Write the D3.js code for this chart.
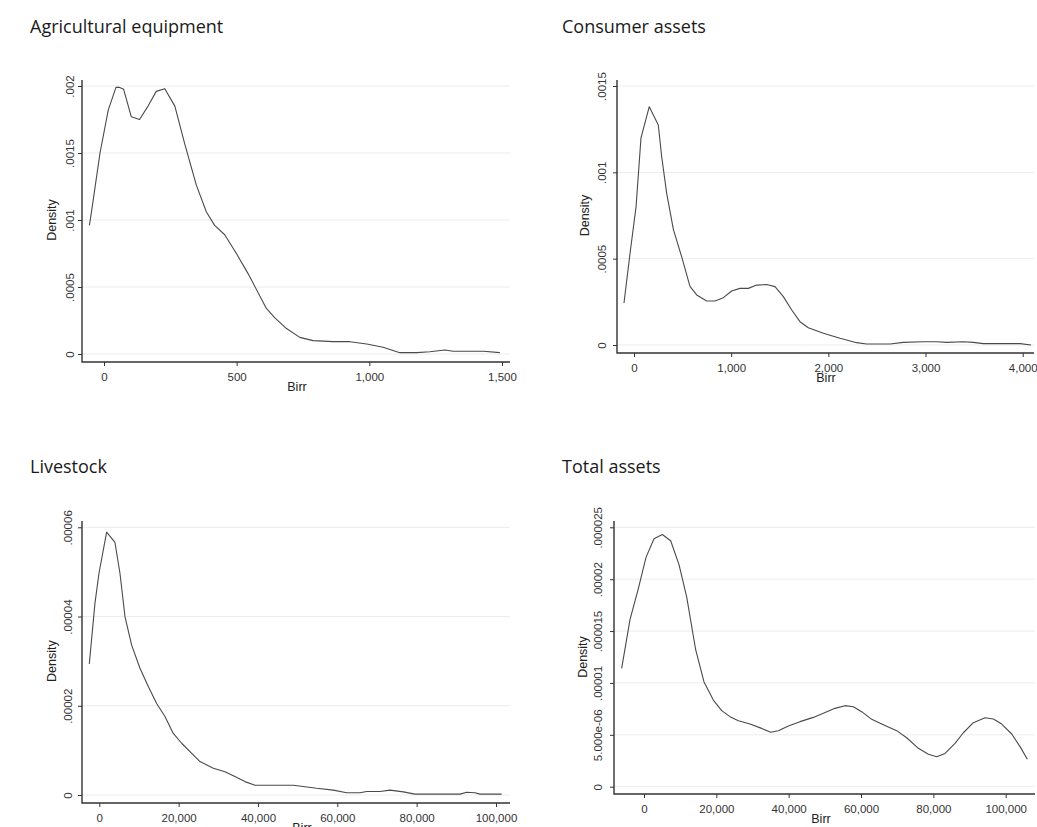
<!DOCTYPE html>
<html>
<head>
<meta charset="utf-8">
<script src="https://cdn.jsdelivr.net/npm/d3@7"></script>
<style>
  body { margin: 0; background: #fff; }
  svg { display: block; }
  .title { font-family: "Open Sans", sans-serif; font-size: 18px; fill: #1a1a1a; }
  .tick text { font-family: "Liberation Sans", Arial, sans-serif; font-size: 11.5px; fill: #333; }
  .axis-title { font-family: "Liberation Sans", Arial, sans-serif; font-size: 12.5px; fill: #222; }
</style>
</head>
<body>
<svg id="chart" width="1037" height="827"></svg>
<script>
// kernel density curves: x in Birr, y is density
const agriX = [-55, -48, -15, 16, 45, 57, 74, 103, 134, 166, 197, 229, 267, 304, 348, 386, 417, 455, 499, 543, 612, 644, 688, 738, 788, 864, 927, 990, 1052, 1115, 1178, 1228, 1285, 1316, 1430, 1492];
const agriY = [.00096, .00105, .0015, .00182, .00199, .00199, .001975, .00177, .00175, .00185, .00196, .00198, .00185, .00157, .00126, .00106, .00096, .00089, .00075, .0006, .00034, .00027, .00019, .000124, .0001, .000092, .000092, .000075, .00005, .00001, .00001, .000017, .00003, .00002, .00002, .00001];

const consX = [-103, -41, 21, 72, 157, 250, 285, 336, 405, 491, 576, 645, 748, 834, 919, 1005, 1091, 1177, 1262, 1365, 1451, 1537, 1623, 1708, 1794, 1949, 2120, 2292, 2395, 2635, 2772, 2978, 3115, 3218, 3389, 3492, 3595, 3973, 4086];
const consY = [.000243, .00053, .0008, .0012, .00138, .001274, .00109, .00088, .00067, .00051, .00034, .00029, .000255, .000255, .000274, .000313, .000328, .000328, .000347, .00035, .000338, .00028, .000203, .000135, .0001, .000068, .000039, .0000135, .000006, .000006, .000015, .000019, .000019, .000015, .000019, .000015, .000008, .000008, 0];

const liveX = [-2521, -1092, -84, 1849, 3950, 5210, 6471, 8151, 10252, 12353, 14454, 16555, 18655, 20756, 22857, 25378, 28739, 31680, 33781, 36723, 39244, 48908, 54790, 58992, 62353, 65714, 67395, 70756, 73277, 76639, 79580, 90924, 92605, 94706, 95966, 101428];
const liveY = [2.94e-5, 4.30e-5, 4.97e-5, 5.89e-5, 5.66e-5, 4.97e-5, 4.0e-5, 3.36e-5, 2.84e-5, 2.43e-5, 2.05e-5, 1.76e-5, 1.38e-5, 1.16e-5, 9.7e-6, 7.5e-6, 6.0e-6, 5.2e-6, 4.3e-6, 3.0e-6, 2.2e-6, 2.2e-6, 1.5e-6, 1.1e-6, 5e-7, 5e-7, 8e-7, 8e-7, 1.1e-6, 7e-7, 2e-7, 2e-7, 6e-7, 5e-7, 2e-7, 2e-7];

const totX = [-6175, -3871, -1567, 553, 2765, 5069, 7373, 9677, 11797, 14286, 16590, 19171, 21475, 23779, 26083, 29309, 32535, 35023, 37143, 39908, 43134, 46820, 49585, 52811, 55576, 57880, 60184, 62949, 65714, 69862, 72627, 75853, 78618, 80922, 83226, 85991, 88295, 91060, 94286, 96590, 98894, 101659, 103963, 105991];
const totY = [1.14e-5, 1.61e-5, 1.91e-5, 2.21e-5, 2.39e-5, 2.43e-5, 2.37e-5, 2.14e-5, 1.83e-5, 1.32e-5, 1.01e-5, 8.35e-6, 7.33e-6, 6.75e-6, 6.36e-6, 6.04e-6, 5.62e-6, 5.24e-6, 5.4e-6, 5.85e-6, 6.27e-6, 6.68e-6, 7.07e-6, 7.55e-6, 7.81e-6, 7.71e-6, 7.23e-6, 6.49e-6, 6.04e-6, 5.4e-6, 4.72e-6, 3.7e-6, 3.12e-6, 2.89e-6, 3.21e-6, 4.18e-6, 5.2e-6, 6.17e-6, 6.65e-6, 6.52e-6, 6.04e-6, 5.08e-6, 3.86e-6, 2.64e-6];

// tick values and labels (stata style, no leading zero)
const agriXTicks = [0, 500, 1000, 1500];
const agriYTicks = [0, .0005, .001, .0015, .002];
const agriYLabels = ["0", ".0005", ".001", ".0015", ".002"];

const consXTicks = [0, 1000, 2000, 3000, 4000];
const consYTicks = [0, .0005, .001, .0015];
const consYLabels = ["0", ".0005", ".001", ".0015"];

const liveXTicks = [0, 20000, 40000, 60000, 80000, 100000];
const liveYTicks = [0, .00002, .00004, .00006];
const liveYLabels = ["0", ".00002", ".00004", ".00006"];

const totXTicks = [0, 20000, 40000, 60000, 80000, 100000];
const totYTicks = [0, .000005, .00001, .000015, .00002, .000025];
const totYLabels = ["0", "5.000e-06", ".00001", ".000015", ".00002", ".000025"];

class DensityPanel {
  constructor(_config, _data) {
    this.config = _config;
    this.data = _data;
    this.initVis();
  }

  initVis() {
    let vis = this;
    let c = vis.config;

    vis.g = d3.select("#chart").append("g");

    vis.xScale = d3.scaleLinear()
      .domain([c.xTicks[0], c.xTicks[c.xTicks.length - 1]])
      .range(c.xRange);
    vis.yScale = d3.scaleLinear()
      .domain([c.yTicks[0], c.yTicks[c.yTicks.length - 1]])
      .range(c.yRange);

    // panel heading
    vis.g.append("text")
      .attr("class", "title")
      .attr("x", c.titleX)
      .attr("y", c.titleY)
      .text(c.title);

    // light horizontal gridlines at every y tick
    vis.g.selectAll(".grid")
      .data(c.yTicks)
      .join("line")
      .attr("class", "grid")
      .attr("x1", c.axisX)
      .attr("x2", c.right)
      .attr("y1", (d) => vis.yScale(d))
      .attr("y2", (d) => vis.yScale(d))
      .attr("stroke", "#ececec")
      .attr("stroke-width", 1);

    // y axis, labels turned on their side
    let yAxis = d3.axisLeft(vis.yScale)
      .tickValues(c.yTicks)
      .tickSize(4)
      .tickFormat((d, i) => c.yLabels[i]);
    vis.g.append("g")
      .attr("transform", `translate(${c.axisX},0)`)
      .call(yAxis)
      .call((g) => g.select(".domain").remove())
      .call((g) => g.selectAll(".tick line").attr("stroke", "#333"))
      .selectAll("text")
      .attr("transform", "rotate(-90)")
      .attr("text-anchor", "middle")
      .attr("x", 0)
      .attr("y", -c.yLabelGap)
      .attr("dy", 0);

    // x axis
    let xAxis = d3.axisBottom(vis.xScale)
      .tickValues(c.xTicks)
      .tickSize(4)
      .tickPadding(7)
      .tickFormat(d3.format(","));
    vis.g.append("g")
      .attr("transform", `translate(0,${c.xAxisY})`)
      .call(xAxis)
      .call((g) => g.select(".domain").remove())
      .call((g) => g.selectAll(".tick line").attr("stroke", "#333"));

    // the L shaped frame
    vis.g.append("path")
      .attr("d", `M${c.axisX},${c.top}V${c.xAxisY}H${c.right}`)
      .attr("fill", "none")
      .attr("stroke", "#333")
      .attr("stroke-width", 1.4);

    // axis titles
    vis.g.append("text")
      .attr("class", "axis-title")
      .attr("text-anchor", "middle")
      .attr("transform", `translate(${c.densityX},${(c.yRange[0] + c.yRange[1]) / 2}) rotate(-90)`)
      .text("Density");
    vis.g.append("text")
      .attr("class", "axis-title")
      .attr("text-anchor", "middle")
      .attr("x", c.birrX)
      .attr("y", c.xAxisY + 29)
      .text("Birr");

    // density curve
    let line = d3.line()
      .x((d) => vis.xScale(d.x))
      .y((d) => vis.yScale(d.y));
    vis.g.append("path")
      .datum(vis.data)
      .attr("d", line)
      .attr("fill", "none")
      .attr("stroke", "#4a4a4a")
      .attr("stroke-width", 1.1)
      .attr("stroke-linejoin", "round");
  }
}

const zip = (xs, ys) => xs.map((x, i) => ({ x: x, y: ys[i] }));

new DensityPanel({
  title: "Agricultural equipment", titleX: 30, titleY: 33,
  axisX: 82, top: 80, xAxisY: 362, right: 510,
  xRange: [104, 502], yRange: [354, 86],
  xTicks: agriXTicks, yTicks: agriYTicks, yLabels: agriYLabels,
  yLabelGap: 8, densityX: 56, birrX: 297
}, zip(agriX, agriY));

new DensityPanel({
  title: "Consumer assets", titleX: 562, titleY: 33,
  axisX: 617, top: 80, xAxisY: 353, right: 1034,
  xRange: [634, 1022.7], yRange: [345, 86],
  xTicks: consXTicks, yTicks: consYTicks, yLabels: consYLabels,
  yLabelGap: 11, densityX: 589, birrX: 826
}, zip(consX, consY));

new DensityPanel({
  title: "Livestock", titleX: 30, titleY: 473,
  axisX: 82, top: 521, xAxisY: 803, right: 510,
  xRange: [99.3, 496], yRange: [795, 527.3],
  xTicks: liveXTicks, yTicks: liveYTicks, yLabels: liveYLabels,
  yLabelGap: 10, densityX: 56, birrX: 302
}, zip(liveX, liveY));

new DensityPanel({
  title: "Total assets", titleX: 562, titleY: 473,
  axisX: 614, top: 521, xAxisY: 794, right: 1035,
  xRange: [644, 1005.7], yRange: [786.7, 527.3],
  xTicks: totXTicks, yTicks: totYTicks, yLabels: totYLabels,
  yLabelGap: 12, densityX: 587, birrX: 821
}, zip(totX, totY));
</script>
</body>
</html>
